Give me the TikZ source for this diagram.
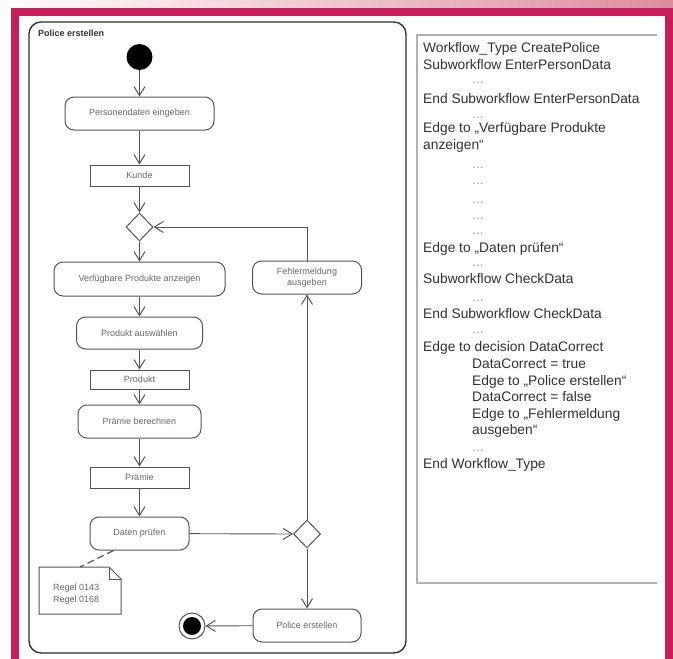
\documentclass[tikz,border=0pt]{standalone}
\usepackage{fontspec}
\setmainfont{Liberation Sans}
\usetikzlibrary{shapes.geometric}
\usetikzlibrary{arrows.meta}

\definecolor{rahmen}{RGB}{200,30,90}
\definecolor{rosa}{RGB}{222,140,160}
\definecolor{linie}{RGB}{85,85,85}
\definecolor{schrift}{RGB}{50,50,50}
\definecolor{knotentext}{RGB}{105,105,105}

\begin{document}
\begin{tikzpicture}[x=1pt,y=-1pt]
      \tikzset{aktion/.style={draw=linie,line width=1pt,rounded corners=9pt,minimum height=33pt,
          inner sep=2pt,align=center,text=knotentext,font=\fontsize{9}{11}\selectfont}}
      \tikzset{objekt/.style={draw=linie,line width=1pt,minimum width=99pt,minimum height=21pt,
          inner sep=2pt,text=knotentext,font=\fontsize{9}{11}\selectfont}}
      \tikzset{entscheidung/.style={diamond,draw=linie,line width=1pt,minimum width=27pt,
          minimum height=28pt,inner sep=0pt}}
      \tikzset{fluss/.style={draw=linie,line width=0.9pt,-{Straight Barb[length=9pt,width=11pt,line width=1pt]}}}
      \tikzset{zeile/.style={anchor=base west,inner sep=0pt,text=schrift,font=\fontsize{13.8}{16}\selectfont}}
      \tikzset{punkte/.style={zeile,text=gray!70}}
      \def\links{423}
      \def\rein{472}
      \def\knick{12pt}
      \useasboundingbox (0,0) rectangle (673,659);
      \fill[white] (0,0) rectangle (673,659);
% Rahmen
\shade[left color=white,right color=rosa] (0,0) rectangle (673,8);
\fill[rahmen] (11,8) rectangle (673,659);
\fill[white] (19,16) rectangle (665,659);
\draw[gray!35!black,line width=1.3pt,rounded corners=12pt] (29,22) rectangle (406,653);
\node[anchor=base west,inner sep=0pt,font=\fontsize{9}{11}\selectfont\bfseries,text=schrift] (titel) at (38,36) {Police erstellen};

% Aktivitaetsdiagramm
\node[circle,fill=black,minimum size=26pt,inner sep=0pt] (start) at (139.5,57) {};
\node[aktion,minimum width=149pt] (pers) at (139.5,113.5) {Personendaten eingeben};
\node[objekt] (kunde) at (139.5,175.5) {Kunde};
\node[entscheidung] (dec1) at (139.5,227) {};
\node[aktion,minimum width=171pt,minimum height=34pt] (verf) at (139.5,279) {Verfügbare Produkte anzeigen};
\node[aktion,minimum width=126pt,minimum height=32pt] (ausw) at (139.5,333) {Produkt auswählen};
\node[objekt,minimum height=19pt] (produkt) at (139.5,379.5) {Produkt};
\node[aktion,minimum width=123pt] (berech) at (139.5,421.5) {Prämie berechnen};
\node[objekt] (praemie) at (139.5,477.5) {Prämie};
\node[aktion,minimum width=99pt] (daten) at (139.5,533.5) {Daten prüfen};
\node[aktion,minimum width=109pt] (fehler) at (307,277.5) {Fehlermeldung\\ausgeben};
\node[entscheidung] (dec2) at (307,534) {};
\node[aktion,minimum width=108pt] (police) at (307,625.5) {Police erstellen};
\node[circle,draw=linie,line width=1pt,minimum size=26pt,inner sep=0pt,
      path picture={\fill[black] (path picture bounding box.center) circle (9pt);}] (ende) at (192,626) {};
% Notiz
\coordinate (nw) at (39,567);
\coordinate (se) at (121,614);
\node[anchor=north west,inner sep=0pt,align=left,text=knotentext,
      font=\fontsize{9}{11.5}\selectfont] (notiz) at (53,584) {Regel 0143\\Regel 0168};
\draw[linie,line width=1pt] (nw) -- ([xshift=-\knick]nw -| se) -- ([yshift=-\knick]nw -| se)
      -- (se) -- (nw |- se) -- cycle;
\draw[linie,line width=0.8pt] ([xshift=-\knick]nw -| se) -- ([xshift=-\knick,yshift=-\knick]nw -| se)
      -- ([yshift=-\knick]nw -| se);

\draw[fluss] (start) -- (pers);
\draw[fluss] (pers) -- (kunde);
\draw[fluss] (kunde) -- (dec1.north);
\draw[fluss] (dec1.south) -- (verf);
\draw[fluss] (verf) -- (ausw);
\draw[fluss] (ausw) -- (produkt);
\draw[fluss] (produkt) -- (berech);
\draw[fluss] (berech) -- (praemie);
\draw[fluss] (praemie) -- (daten);
\draw[fluss] (daten) -- (dec2.west);
\draw[fluss] (dec2.north) -- (fehler);
\draw[fluss] (fehler.north) |- (dec1.east);
\draw[fluss] (dec2.south) -- (police);
\draw[fluss] (police) -- (ende);
\draw[linie,line width=1.2pt,dash pattern=on 7pt off 4pt] ([xshift=-26pt]daten.south) -- ([xshift=41pt]nw);

% Textbox
\draw[gray!60,line width=1.2pt] (657,35) -- (417,35) -- (417,583) -- (657,583);
\foreach \y/\zeile in {52/{Workflow\_Type CreatePolice},69/{Subworkflow EnterPersonData},
    103/{End Subworkflow EnterPersonData},132/{Edge to „Verfügbare Produkte},149/{anzeigen“},
    252/{Edge to „Daten prüfen“},283/{Subworkflow CheckData},318/{End Subworkflow CheckData},
    351/{Edge to decision DataCorrect},468/{End Workflow\_Type}}
  \node[zeile] (z\y) at (\links,\y) {\zeile};
\foreach \y/\zeile in {368/{DataCorrect = true},385/{Edge to „Police erstellen“},
    401/{DataCorrect = false},418/{Edge to „Fehlermeldung},434/{ausgeben“}}
  \node[zeile] (z\y) at (\rein,\y) {\zeile};
\foreach \y in {83,118,168,184,203,219,234,266,301,333,451}
  \node[punkte] (p\y) at (\rein,\y) {...};

    \end{tikzpicture}
\end{document}
